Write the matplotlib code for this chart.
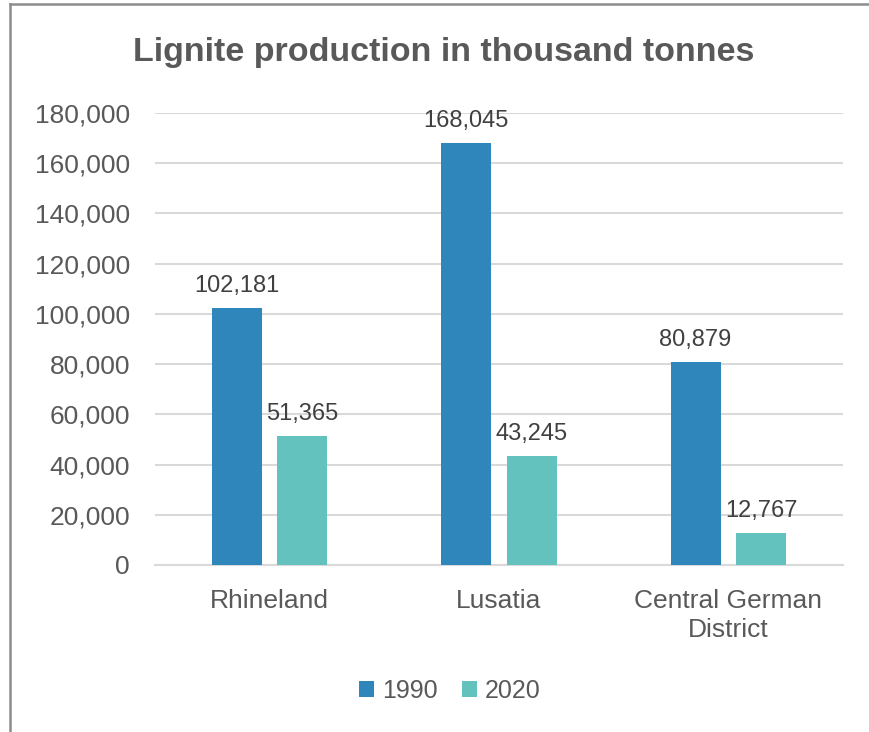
import matplotlib
matplotlib.use('Agg')
import matplotlib.pyplot as plt
from matplotlib.lines import Line2D
from matplotlib.patches import Patch

plt.rcParams['font.family'] = ['Liberation Sans', 'DejaVu Sans']

categories = ['Rhineland', 'Lusatia', 'Central German\nDistrict']
years = ['1990', '2020']
prod_1990 = [102181, 168045, 80879]
prod_2020 = [51365, 43245, 12767]
yticks = [0, 20000, 40000, 60000, 80000, 100000, 120000, 140000, 160000, 180000]

C_1990 = '#2e86bb'
C_2020 = '#63c1be'
C_TEXT = '#595959'
C_GRID = '#d9d9d9'

fig = plt.figure(figsize=(8.69, 7.32), dpi=100)
ax = fig.add_axes([155 / 869, 1 - 565 / 732, (843 - 155) / 869, (565 - 113) / 732])

x = list(range(len(categories)))
w = 0.218
off = 0.143
b1 = ax.bar([i - off for i in x], prod_1990, width=w, color=C_1990, zorder=3)
b2 = ax.bar([i + off for i in x], prod_2020, width=w, color=C_2020, zorder=3)

for bars in (b1, b2):
    for r in bars:
        h = r.get_height()
        ax.annotate(f'{h:,.0f}', (r.get_x() + r.get_width() / 2, h),
                    xytext=(0, 8), textcoords='offset points',
                    ha='center', va='bottom', fontsize=17, color='#404040')

ax.set_xlim(-0.5, 2.5)
ax.set_ylim(0, 180000)
ax.set_yticks(yticks)
ax.set_yticklabels([f'{v:,}' for v in yticks])
ax.set_xticks(x)
ax.set_xticklabels(categories, linespacing=1.3)
ax.tick_params(axis='y', length=0, pad=18, labelsize=19, labelcolor=C_TEXT)
ax.tick_params(axis='x', length=0, pad=17, labelsize=19, labelcolor=C_TEXT)
ax.yaxis.grid(True, color=C_GRID, linewidth=1.5, zorder=0)
ax.set_axisbelow(True)
for s in ('top', 'right', 'left'):
    ax.spines[s].set_visible(False)
ax.spines['bottom'].set_color(C_GRID)
ax.spines['bottom'].set_linewidth(1.5)

fig.text(444 / 869, 1 - 53 / 732, 'Lignite production in thousand tonnes',
         ha='center', va='center', fontsize=24.5, fontweight='bold', color=C_TEXT)

handles = [Patch(facecolor=C_1990), Patch(facecolor=C_2020)]
fig.legend(handles, years, loc='center', bbox_to_anchor=(450 / 869, 1 - 691 / 732),
           ncol=2, frameon=False, fontsize=18, handlelength=0.6, handleheight=0.6,
           handletextpad=0.3, columnspacing=1.0, labelcolor=C_TEXT)

# chart frame (left and top edges visible)
fig.add_artist(Line2D([10 / 869, 10 / 869], [0, 1 - 4 / 732], color='#8c8c8c', linewidth=1.8,
                      transform=fig.transFigure))
fig.add_artist(Line2D([10 / 869, 1], [1 - 4 / 732, 1 - 4 / 732], color='#8c8c8c', linewidth=1.8,
                      transform=fig.transFigure))

fig.savefig('out.png', dpi=100, facecolor='white')
